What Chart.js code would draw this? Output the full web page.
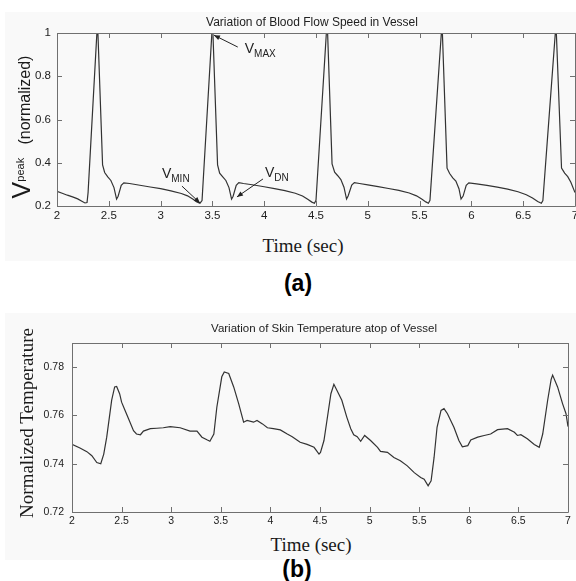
<!DOCTYPE html>
<html>
<head>
<meta charset="utf-8">
<title>Blood flow speed / skin temperature</title>
<script src="https://cdn.jsdelivr.net/npm/chart.js@4"></script>
<style>
  body { margin: 0; background: #fff; width: 576px; height: 581px; position: relative; overflow: hidden; font-family: "Liberation Sans", Arial, sans-serif; }
  .panel { position: absolute; background: #f9f9f9; }
  canvas { position: absolute; left: 0; }
  .t { position: absolute; white-space: nowrap; color: #1a1a1a; transform: translate(-50%, -50%); }
  .rot { transform: translate(-50%, -50%) rotate(-90deg); }
  .serif { font-family: "Liberation Serif", "Times New Roman", serif; font-size: 19px; }
  .ttl { font-size: 12px; color: #222; }
  .cap { font-size: 23px; font-weight: bold; color: #000; }
</style>
</head>
<body>
<div class="panel" style="left:5px;top:12px;width:571px;height:249px"></div>
<div class="panel" style="left:5px;top:313px;width:571px;height:247px"></div>

<canvas id="chartA" width="576" height="232" style="top:0"></canvas>
<canvas id="chartB" width="576" height="232" style="top:300px"></canvas>

<div class="t ttl" style="left:312px;top:22px">Variation of Blood Flow Speed in Vessel</div>
<div class="t rot" style="left:21px;top:127px;font-size:16px"><span style="font-size:25px">V</span><span style="font-size:11px;position:relative;top:-6px">peak</span>&nbsp;&nbsp; (normalized)</div>
<div class="t serif" style="left:303px;top:246px">Time (sec)</div>
<div class="t cap" style="left:298px;top:283px">(a)</div>

<div class="t ttl" style="left:324px;top:328px;font-size:11.5px">Variation of Skin Temperature atop of Vessel</div>
<div class="t serif rot" style="left:27px;top:423px">Normalized Temperature</div>
<div class="t serif" style="left:311px;top:545px">Time (sec)</div>
<div class="t cap" style="left:297px;top:569px">(b)</div>

<script>
// (a) blood flow speed
const timeA = [2.00, 2.05, 2.10, 2.15, 2.20, 2.24, 2.27, 2.29, 2.30, 2.385, 2.395, 2.44, 2.46, 2.49, 2.52, 2.55, 2.575, 2.59, 2.62, 2.645,
  2.70, 2.80, 2.90, 3.00, 3.10, 3.20, 3.26, 3.31, 3.35, 3.38, 3.40, 3.495, 3.505, 3.55, 3.57, 3.60, 3.63, 3.66, 3.685, 3.70,
  3.73, 3.755, 3.80, 3.90, 4.00, 4.10, 4.20, 4.30, 4.37, 4.42, 4.46, 4.485, 4.50, 4.600, 4.612, 4.655, 4.68, 4.71, 4.74, 4.77,
  4.795, 4.81, 4.845, 4.87, 4.92, 5.00, 5.10, 5.20, 5.30, 5.40, 5.47, 5.52, 5.56, 5.585, 5.60, 5.71, 5.72, 5.765, 5.79, 5.82,
  5.85, 5.88, 5.90, 5.92, 5.95, 5.975, 6.05, 6.15, 6.25, 6.35, 6.45, 6.53, 6.59, 6.64, 6.675, 6.69, 6.81, 6.82, 6.87, 6.90,
  6.93, 6.96, 7.00];
const speedA = [0.268, 0.259, 0.250, 0.242, 0.233, 0.222, 0.214, 0.216, 0.262, 1.0, 1.0, 0.390, 0.355, 0.335, 0.318, 0.285, 0.232, 0.245, 0.296, 0.307,
  0.304, 0.296, 0.288, 0.280, 0.270, 0.258, 0.247, 0.232, 0.219, 0.213, 0.225, 1.0, 1.0, 0.390, 0.352, 0.335, 0.318, 0.285, 0.232, 0.245,
  0.296, 0.308, 0.304, 0.297, 0.289, 0.280, 0.271, 0.259, 0.246, 0.231, 0.218, 0.213, 0.226, 1.0, 1.0, 0.395, 0.356, 0.340, 0.322, 0.287,
  0.232, 0.246, 0.297, 0.308, 0.304, 0.298, 0.290, 0.281, 0.272, 0.260, 0.247, 0.232, 0.219, 0.213, 0.226, 1.0, 1.0, 0.375, 0.350, 0.330,
  0.315, 0.280, 0.232, 0.246, 0.296, 0.307, 0.302, 0.295, 0.287, 0.278, 0.266, 0.252, 0.237, 0.221, 0.213, 0.225, 1.0, 1.0, 0.375, 0.352,
  0.336, 0.310, 0.262];

// (b) skin temperature
const timeB = [2.00, 2.08, 2.15, 2.20, 2.25, 2.29, 2.32, 2.35, 2.40, 2.43, 2.45, 2.48, 2.50, 2.535, 2.57, 2.62, 2.65, 2.69, 2.72, 2.79,
  2.855, 2.92, 2.99, 3.09, 3.19, 3.26, 3.31, 3.36, 3.39, 3.43, 3.46, 3.51, 3.535, 3.58, 3.63, 3.68, 3.73, 3.765, 3.83, 3.865,
  3.92, 3.97, 4.03, 4.10, 4.17, 4.22, 4.30, 4.37, 4.44, 4.49, 4.505, 4.54, 4.57, 4.61, 4.64, 4.67, 4.72, 4.77, 4.81, 4.84,
  4.875, 4.91, 4.95, 5.01, 5.08, 5.11, 5.18, 5.245, 5.31, 5.38, 5.45, 5.515, 5.55, 5.59, 5.62, 5.65, 5.68, 5.72, 5.75, 5.785,
  5.85, 5.90, 5.935, 5.99, 6.02, 6.09, 6.155, 6.22, 6.29, 6.39, 6.46, 6.49, 6.525, 6.59, 6.66, 6.71, 6.745, 6.795, 6.83, 6.845,
  6.895, 6.945, 6.98, 7.00];
const tempB = [0.7480, 0.7465, 0.7450, 0.7433, 0.7405, 0.7400, 0.7440, 0.7510, 0.7663, 0.7718, 0.7720, 0.7690, 0.7655, 0.7620, 0.7586, 0.7537, 0.7523, 0.7520, 0.7535, 0.7545,
  0.7547, 0.7549, 0.7554, 0.7549, 0.7535, 0.7535, 0.7510, 0.7499, 0.7493, 0.7523, 0.7634, 0.7760, 0.7780, 0.7774, 0.7718, 0.7649, 0.7572, 0.7579, 0.7572, 0.7579,
  0.7565, 0.7549, 0.7545, 0.7540, 0.7523, 0.7512, 0.7489, 0.7480, 0.7468, 0.7440, 0.7447, 0.7496, 0.7579, 0.7690, 0.7729, 0.7704, 0.7663, 0.7593, 0.7545, 0.7520,
  0.7512, 0.7493, 0.7517, 0.7496, 0.7468, 0.7451, 0.7447, 0.7426, 0.7412, 0.7391, 0.7363, 0.7343, 0.7336, 0.7308, 0.7329, 0.7426, 0.7551, 0.7621, 0.7628, 0.7607,
  0.7551, 0.7496, 0.7470, 0.7475, 0.7498, 0.7510, 0.7517, 0.7523, 0.7541, 0.7545, 0.7530, 0.7517, 0.7520, 0.7503, 0.7480, 0.7468, 0.7523, 0.7663, 0.7749, 0.7767,
  0.7718, 0.7649, 0.7607, 0.7554];

const xTicks = [2, 2.5, 3, 3.5, 4, 4.5, 5, 5.5, 6, 6.5, 7];
const yTicksA = [0.2, 0.4, 0.6, 0.8, 1];
const yTicksB = [0.72, 0.74, 0.76, 0.78];

// arrow annotations on (a): tip / tail in data units
const notes = [
  { v: 'V', sub: 'MAX', tip: [3.515, 0.990], tail: [3.745, 0.935], dx: 7, dy: 6 },
  { v: 'V', sub: 'MIN', tip: [3.380, 0.214], tail: [3.206, 0.292], dx: -20, dy: -8 },
  { v: 'V', sub: 'DN',  tip: [3.737, 0.242], tail: [3.988, 0.325], dx: 2, dy: -2 }
];

const fmt = v => String(Math.round(v * 1000) / 1000);

// matlab-like box with ticks pointing inwards
const boxTicks = {
  id: 'boxTicks',
  afterDraw(chart) {
    const { ctx, chartArea: a, scales: { x, y } } = chart;
    ctx.save();
    ctx.strokeStyle = '#707070';
    ctx.lineWidth = 1;
    ctx.beginPath();
    ctx.rect(Math.round(a.left) + 0.5, Math.round(a.top) + 0.5, Math.round(a.right - a.left), Math.round(a.bottom - a.top));
    x.ticks.forEach(t => {
      const px = Math.round(x.getPixelForValue(t.value)) + 0.5;
      ctx.moveTo(px, a.bottom); ctx.lineTo(px, a.bottom - 5);
      ctx.moveTo(px, a.top); ctx.lineTo(px, a.top + 5);
    });
    y.ticks.forEach(t => {
      const py = Math.round(y.getPixelForValue(t.value)) + 0.5;
      ctx.moveTo(a.left, py); ctx.lineTo(a.left + 5, py);
      ctx.moveTo(a.right, py); ctx.lineTo(a.right - 5, py);
    });
    ctx.stroke();
    ctx.restore();
  }
};

const arrows = {
  id: 'arrows',
  afterDraw(chart) {
    if (chart.canvas.id !== 'chartA') return;
    const { ctx, scales: { x, y } } = chart;
    ctx.save();
    notes.forEach(n => {
      const tx = x.getPixelForValue(n.tip[0]), ty = y.getPixelForValue(n.tip[1]);
      const sx = x.getPixelForValue(n.tail[0]), sy = y.getPixelForValue(n.tail[1]);
      ctx.strokeStyle = '#222'; ctx.fillStyle = '#222'; ctx.lineWidth = 1;
      ctx.beginPath(); ctx.moveTo(sx, sy); ctx.lineTo(tx, ty); ctx.stroke();
      const ang = Math.atan2(ty - sy, tx - sx);
      ctx.beginPath();
      ctx.moveTo(tx, ty);
      ctx.lineTo(tx - 6 * Math.cos(ang) + 2.5 * Math.sin(ang), ty - 6 * Math.sin(ang) - 2.5 * Math.cos(ang));
      ctx.lineTo(tx - 6 * Math.cos(ang) - 2.5 * Math.sin(ang), ty - 6 * Math.sin(ang) + 2.5 * Math.cos(ang));
      ctx.closePath(); ctx.fill();
      // label
      const lx = sx + n.dx, ly = sy + n.dy;
      ctx.textBaseline = 'alphabetic'; ctx.textAlign = 'left';
      ctx.font = '14px "Liberation Sans", Arial, sans-serif';
      ctx.fillText(n.v, lx, ly);
      const w = ctx.measureText(n.v).width;
      ctx.font = '10px "Liberation Sans", Arial, sans-serif';
      ctx.fillText(n.sub, lx + w, ly + 4);
    });
    ctx.restore();
  }
};

function makeChart(id, xs, ys, yTicks, opt) {
  return new Chart(document.getElementById(id), {
    type: 'line',
    data: {
      datasets: [{
        data: xs.map((t, i) => ({ x: t, y: ys[i] })),
        borderColor: '#333',
        borderWidth: 1.2,
        pointRadius: 0,
        tension: 0,
        fill: false
      }]
    },
    options: {
      responsive: false,
      animation: false,
      devicePixelRatio: 1,
      layout: { padding: { top: opt.top, right: opt.right, left: 0, bottom: 0 } },
      plugins: { legend: { display: false }, tooltip: { enabled: false }, title: { display: false } },
      scales: {
        x: {
          type: 'linear', min: 2, max: 7,
          grid: { display: false, drawTicks: false },
          border: { display: false },
          afterBuildTicks: s => { s.ticks = xTicks.map(v => ({ value: v })); },
          afterFit: s => { s.height = opt.xh; s.paddingLeft = 0; s.paddingRight = 0; },
          ticks: { padding: opt.xpad, maxRotation: 0, autoSkip: false, color: '#222', callback: fmt,
                   font: { family: '"Liberation Sans", Arial, sans-serif', size: opt.fs } }
        },
        y: {
          type: 'linear', min: opt.ymin, max: opt.ymax,
          grid: { display: false, drawTicks: false },
          border: { display: false },
          afterBuildTicks: s => { s.ticks = yTicks.map(v => ({ value: v })); },
          afterFit: s => { s.width = opt.yw; s.paddingTop = 0; s.paddingBottom = 0; },
          ticks: { padding: opt.ypad, color: '#222', callback: fmt,
                   font: { family: '"Liberation Sans", Arial, sans-serif', size: opt.fs } }
        }
      }
    },
    plugins: [boxTicks, arrows]
  });
}

makeChart('chartA', timeA, speedA, yTicksA,
  { top: 33, right: 1, xh: 26, yw: 57, xpad: 3, ypad: 6, fs: 11.5, ymin: 0.2, ymax: 1 });
makeChart('chartB', timeB, tempB, yTicksB,
  { top: 43, right: 8, xh: 20, yw: 72, xpad: 3, ypad: 8, fs: 10.5, ymin: 0.72, ymax: 0.79 });
</script>
</body>
</html>
